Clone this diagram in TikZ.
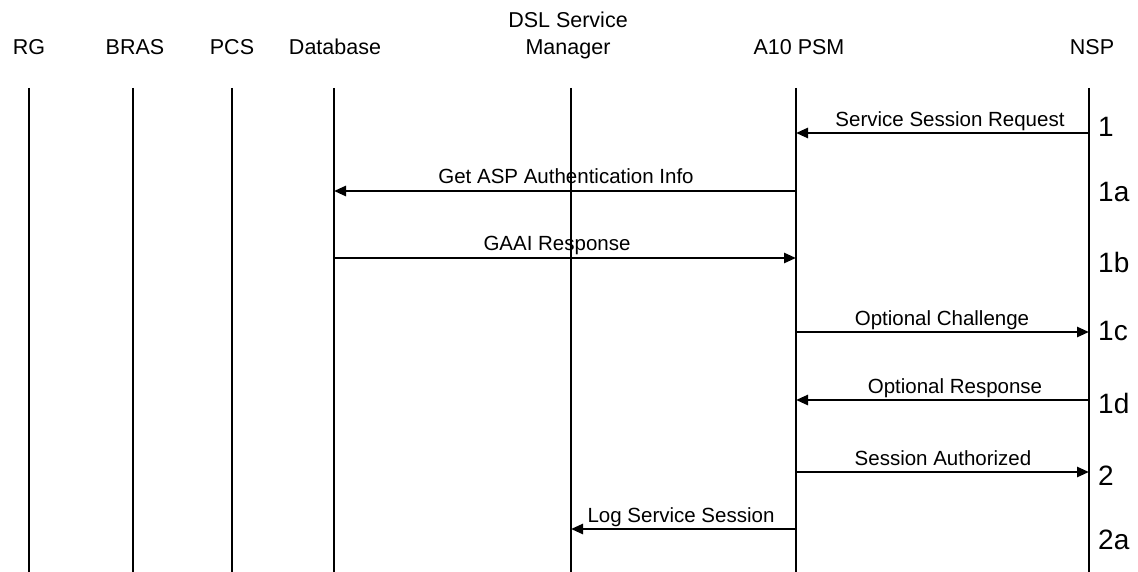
\documentclass[tikz,border=0pt]{standalone}
\usepackage{fontspec}
\setmainfont{Liberation Sans}
\usetikzlibrary{arrows.meta}

\tikzset{
  lifeline/.style={line width=1.4pt, black},
  msg/.style={line width=2.6pt, black, -{Triangle[length=12pt,width=10pt]}},
  header/.style={font=\fontsize{21.5}{27}\selectfont, inner sep=0pt, anchor=base, align=center},
  msglabel/.style={font=\fontsize{20.5}{24}\selectfont, inner sep=0pt, anchor=base},
  steplabel/.style={font=\fontsize{28}{32}\selectfont, inner sep=0pt, anchor=west}
}

\begin{document}
\begin{tikzpicture}[x=1pt,y=-1pt]
  \useasboundingbox[fill=white] (0,0) rectangle (1138,572);

  % participants
  \node[header] (hRG)   at (29,55)   {RG};
  \node[header] (hBRAS) at (135,55)  {BRAS};
  \node[header] (hPCS)  at (232,55)  {PCS};
  \node[header] (hDB)   at (335,55)  {Database};
  \node[header] (hDSLa) at (568,28)  {DSL Service};
  \node[header] (hDSLb) at (568,55)  {Manager};
  \node[header] (hA10)  at (799,55)  {A10 PSM};
  \node[header] (hNSP)  at (1092,55) {NSP};

  % lifeline ends
  \coordinate (RG)    at (29,88);   \coordinate (RGe)   at (29,572);
  \coordinate (BRAS)  at (133,88);  \coordinate (BRASe) at (133,572);
  \coordinate (PCS)   at (232,88);  \coordinate (PCSe)  at (232,572);
  \coordinate (DB)    at (334,88);  \coordinate (DBe)   at (334,572);
  \coordinate (DSL)   at (571,88);  \coordinate (DSLe)  at (571,572);
  \coordinate (A10)   at (796,88);  \coordinate (A10e)  at (796,572);
  \coordinate (NSP)   at (1089,88); \coordinate (NSPe)  at (1089,572);

  \foreach \p in {RG,BRAS,PCS,DB,DSL,A10,NSP}
    \draw[lifeline] (\p) -- (\p e);

  % message rows
  \coordinate (r1)  at (0,133);
  \coordinate (r1a) at (0,191);
  \coordinate (r1b) at (0,258);
  \coordinate (r1c) at (0,332);
  \coordinate (r1d) at (0,400);
  \coordinate (r2)  at (0,472);
  \coordinate (r2a) at (0,529);

  % messages
  \draw[msg] (NSP |- r1)  -- (A10 |- r1);
  \draw[msg] (A10 |- r1a) -- (DB |- r1a);
  \draw[msg] (DB |- r1b)  -- (A10 |- r1b);
  \draw[msg] (A10 |- r1c) -- (NSP |- r1c);
  \draw[msg] (NSP |- r1d) -- (A10 |- r1d);
  \draw[msg] (A10 |- r2)  -- (NSP |- r2);
  \draw[msg] (A10 |- r2a) -- (DSL |- r2a);

  % message labels
  \node[msglabel] (l1)  at (950,127) {Service Session Request};
  \node[msglabel] (l1a) at (566,184) {Get ASP Authentication Info};
  \node[msglabel] (l1b) at (557,251) {GAAI Response};
  \node[msglabel] (l1c) at (942,325) {Optional Challenge};
  \node[msglabel] (l1d) at (955,393) {Optional Response};
  \node[msglabel] (l2)  at (943,465) {Session Authorized};
  \node[msglabel] (l2a) at (681,522) {Log Service Session};

  % step numbers
  \node[steplabel] (s1)  at (1098,127) {1};
  \node[steplabel] (s1a) at (1098,192) {1a};
  \node[steplabel] (s1b) at (1098,262) {1b};
  \node[steplabel] (s1c) at (1098,331) {1c};
  \node[steplabel] (s1d) at (1098,403) {1d};
  \node[steplabel] (s2)  at (1098,476) {2};
  \node[steplabel] (s2a) at (1098,540) {2a};
\end{tikzpicture}
\end{document}
